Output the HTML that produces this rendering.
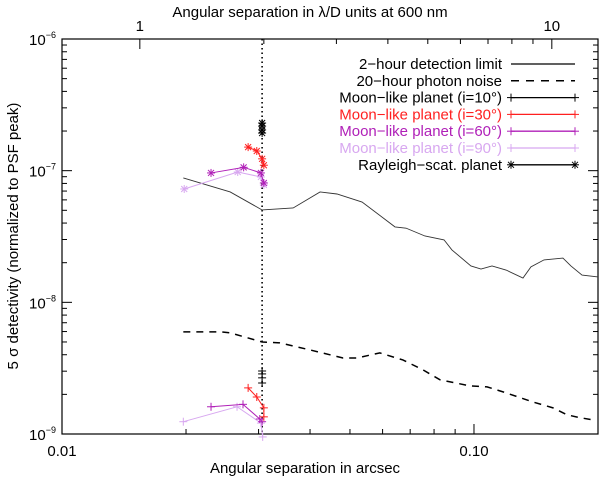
<!DOCTYPE html>
<html><head><meta charset="utf-8"><style>
body{margin:0;background:#fff}
svg{display:block;font-family:"Liberation Sans",Helvetica,sans-serif}
</style></head><body>
<svg id="chart" width="600" height="478" viewBox="0 0 600 478" xmlns="http://www.w3.org/2000/svg"></svg>
<script>
// ---- data ----
const limitX=[0.0197,0.0256,0.0306,0.0364,0.0423,0.0465,0.0535,0.0643,0.0684,0.0760,0.0846,0.0884,0.0983,0.1040,0.1106,0.1196,0.1315,0.1375,0.1479,0.1644,0.1719,0.1829,0.2];
const limitY=[8.8e-8,6.89e-8,5.03e-8,5.21e-8,6.89e-8,6.65e-8,5.78e-8,3.74e-8,3.66e-8,3.19e-8,2.98e-8,2.5e-8,1.89e-8,1.79e-8,1.89e-8,1.76e-8,1.53e-8,1.86e-8,2.1e-8,2.17e-8,1.89e-8,1.61e-8,1.56e-8];
const noiseX=[0.0197,0.02445,0.0256,0.0306,0.0338,0.0400,0.0481,0.0520,0.0591,0.0672,0.0752,0.0827,0.0978,0.1076,0.1176,0.1391,0.1555,0.1681,0.1808,0.1945];
const noiseY=[5.96e-9,5.96e-9,5.86e-9,5.0e-9,4.92e-9,4.35e-9,3.78e-9,3.78e-9,4.13e-9,3.65e-9,3.07e-9,2.58e-9,2.32e-9,2.28e-9,2.09e-9,1.75e-9,1.58e-9,1.4e-9,1.33e-9,1.28e-9];
const ray={x:[0.0306,0.0306,0.0306,0.0306],y:[2.3e-7,2.18e-7,2.04e-7,1.93e-7]};
const rayLow={x:[0.0306,0.0306,0.0306,0.0306],y:[3.01e-9,2.86e-9,2.67e-9,2.44e-9]};
const i30Up={x:[0.0283,0.0297,0.0306,0.0309],y:[1.51e-7,1.41e-7,1.23e-7,1.10e-7]};
const i60Up={x:[0.0230,0.0276,0.0304,0.0309],y:[9.61e-8,1.06e-7,9.61e-8,8.06e-8]};
const i90Up={x:[0.0198,0.0267,0.0304,0.0309],y:[7.26e-8,9.77e-8,8.96e-8,7.79e-8]};
const i30Low={x:[0.0283,0.0297,0.0309,0.0309],y:[2.24e-9,1.91e-9,1.58e-9,1.35e-9]};
const i60Low={x:[0.0230,0.0275,0.0302,0.0306],y:[1.61e-9,1.68e-9,1.30e-9,1.24e-9]};
const i90Low={x:[0.0197,0.0266,0.0304,0.0307],y:[1.24e-9,1.61e-9,1.21e-9,0.95e-9]};
const xTicks=[0.01,0.1];const xTickLabels=["0.01","0.10"];
const yTicks=[1e-9,1e-8,1e-7,1e-6];const yExp=["−9","−8","−7","−6"];
const topTicks=[1,10];const topLabels=["1","10"];
const lamD=0.01545, sepLine=0.0306;
// ---- axes ----
const L=62,R=598,T=39,B=434;
const X=v=>L+(Math.log10(v)+2)/Math.log10(20)*(R-L);
const Y=v=>T+(-6-Math.log10(v))/3*(B-T);
const svg=document.getElementById('chart');const NS='http://www.w3.org/2000/svg';
function el(t,a,p){const e=document.createElementNS(NS,t);for(const k in a)e.setAttribute(k,a[k]);(p||svg).appendChild(e);return e;}
function txt(x,y,s,a){const e=el('text',Object.assign({x:x,y:y,'font-size':15,fill:'#000'},a||{}));e.textContent=s;return e;}
const frame=el('rect',{x:L,y:T,width:R-L,height:B-T,fill:'none',stroke:'#000','stroke-width':1.2});


for(let d=0.01;d<0.25;d*=10){for(let m=1;m<10;m++){const v=d*m;if(v>0.2001)break;const px=X(v),len=m==1?10:5;
el('line',{x1:px,y1:B,x2:px,y2:B-len,stroke:'#000'});}}
xTicks.forEach((v,i)=>{const t=txt(X(v),456,xTickLabels[i],{'text-anchor':'middle'});

});
for(let d=1;d<=10;d*=10){for(let m=1;m<10;m++){const v=d*m;const px=X(v*lamD);if(px>R+0.5||px<L)continue;const len=m==1?10:5;
el('line',{x1:px,y1:T,x2:px,y2:T+len,stroke:'#000'});}}
topTicks.forEach((v,i)=>{const t=txt(X(v*lamD),31,topLabels[i],{'text-anchor':'middle'});

});
for(let e=-9;e<-6;e++){for(let m=1;m<10;m++){const v=m*Math.pow(10,e);const py=Y(v);const len=m==1?10:5;
el('line',{x1:L,y1:py,x2:L+len,y2:py,stroke:'#000'});el('line',{x1:R,y1:py,x2:R-len,y2:py,stroke:'#000'});}}
yTicks.forEach((v,i)=>{const t=txt(L-6,Y(v)+6,'10',{'text-anchor':'end'});
const s=el('tspan',{dy:-7,'font-size':9},t);s.textContent=yExp[i];

});
let t=txt(305,473,'Angular separation in arcsec',{'text-anchor':'middle'});


t=txt(310,17,'Angular separation in λ/D units at 600 nm',{'text-anchor':'middle'});


t=txt(0,0,'5 σ detectivity (normalized to PSF peak)',{'text-anchor':'middle',transform:'translate(18,236) rotate(-90)'});


const sl=el('line',{x1:X(sepLine),y1:T,x2:X(sepLine),y2:B,stroke:'#000','stroke-width':1.6,'stroke-dasharray':'1.5 3'});


function poly(xs,ys,col,w,dash,name){const p=el('polyline',{points:xs.map((x,i)=>X(x)+','+Y(ys[i])).join(' '),fill:'none',stroke:col,'stroke-width':w});
if(dash)p.setAttribute('stroke-dasharray',dash);

return p;}
function mark(px,py,col,type){const s=4;el('line',{x1:px-s,y1:py,x2:px+s,y2:py,stroke:col});el('line',{x1:px,y1:py-s,x2:px,y2:py+s,stroke:col});
if(type=='star'){el('line',{x1:px-s*.75,y1:py-s*.75,x2:px+s*.75,y2:py+s*.75,stroke:col});el('line',{x1:px-s*.75,y1:py+s*.75,x2:px+s*.75,y2:py-s*.75,stroke:col});}}
function series(d,col,type,name,line){if(line!==false)poly(d.x,d.y,col,1,null,name);d.x.forEach((x,i)=>mark(X(x),Y(d.y[i]),col,type));}
poly(limitX,limitY,'#333',0.9,null,'detection-limit-line');
poly(noiseX,noiseY,'#000',1.5,'7 6','photon-noise-line');
const C30='#ff2020',C60='#b020b8',C90='#d8a8f0';
series(i90Up,C90,'star','i90-upper');series(i60Up,C60,'star','i60-upper');series(i30Up,C30,'star','i30-upper');
series(ray,'#000','star','rayleigh-upper',false);
series(i90Low,C90,'plus','i90-lower');series(i60Low,C60,'plus','i60-lower');series(i30Low,C30,'plus','i30-lower');
series(rayLow,'#000','plus','rayleigh-lower',false);
const leg=[['2−hour detection limit','#000','solid'],['20−hour photon noise','#000','dash'],['Moon−like planet (i=10°)','#000','plus'],['Moon−like planet (i=30°)',C30,'plus'],['Moon−like planet (i=60°)',C60,'plus'],['Moon−like planet (i=90°)',C90,'plus'],['Rayleigh−scat. planet','#000','star']];
leg.forEach((r,i)=>{const y=69+i*16.8;const g=el('g',{});


const tt=txt(502,y,r[0],{'text-anchor':'end',fill:r[1]});g.appendChild(tt);
const ln=el('line',{x1:511,y1:y-5,x2:575,y2:y-5,stroke:r[1],'stroke-width':r[2]=='dash'?1.5:1.3},g);
if(r[2]=='dash')ln.setAttribute('stroke-dasharray','8 7');
if(r[2]=='plus'||r[2]=='star'){mark(511,y-5,r[1],r[2]);mark(575,y-5,r[1],r[2]);}
});
</script>
</body></html>
